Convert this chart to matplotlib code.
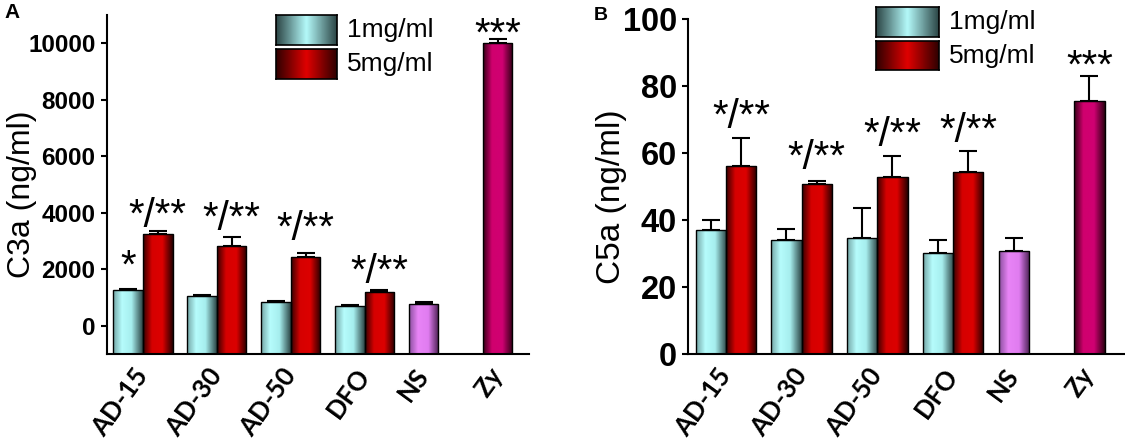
import numpy as np
import matplotlib
matplotlib.use('Agg')
import matplotlib.pyplot as plt
from matplotlib.colors import LinearSegmentedColormap

# data
groups = ['AD-15', 'AD-30', 'AD-50', 'DFO', 'NS', 'Zy']

c3a_1mg = [1250, 1040, 825, 710]
c3a_1mg_err = [40, 45, 35, 25]
c3a_5mg = [3240, 2840, 2440, 1190]
c3a_5mg_err = [110, 300, 130, 60]
c3a_ns, c3a_ns_err = 780, 60
c3a_zy, c3a_zy_err = 10010, 130

c5a_1mg = [37.1, 33.9, 34.7, 30.1]
c5a_1mg_err = [2.9, 3.5, 9.0, 3.9]
c5a_5mg = [56.2, 50.7, 52.9, 54.3]
c5a_5mg_err = [8.2, 1.0, 6.3, 6.4]
c5a_ns, c5a_ns_err = 30.7, 3.8
c5a_zy, c5a_zy_err = 75.6, 7.4

# significance marks: (text, baseline y)
sig_a_1mg = [('*', 1710)]
sig_a_5mg = [('*/**', 3510), ('*/**', 3400), ('*/**', 3020), ('*/**', 1510)]
sig_a_zy = ('***', 9900)
sig_b_5mg = [('*/**', 67.4), ('*/**', 55.3), ('*/**', 62.0), ('*/**', 63.4)]
sig_b_zy = ('***', 82.5)

ARIAL = 'Liberation Sans'
CAL = 'Lato'

cyan = LinearSegmentedColormap.from_list('cy', [(0, '#74a6a6'), (0.3, '#b6fcfc'), (0.62, '#a6eeee'), (1, '#2c4646')])
red = LinearSegmentedColormap.from_list('rd', [(0, '#3a0000'), (0.3, '#d60000'), (0.65, '#dc0000'), (1, '#280000')])
violet = LinearSegmentedColormap.from_list('vi', [(0, '#8c50a0'), (0.3, '#e884f6'), (0.65, '#e07cf0'), (1, '#4a2052')])
magenta = LinearSegmentedColormap.from_list('mg', [(0, '#3a0018'), (0.3, '#d0006e'), (0.65, '#d00072'), (1, '#300014')])
cyan_leg = LinearSegmentedColormap.from_list('cl', [(0, '#2c4646'), (0.5, '#b4fafa'), (1, '#2c4646')])
red_leg = LinearSegmentedColormap.from_list('rl', [(0, '#300000'), (0.5, '#e00000'), (1, '#300000')])

grad = np.linspace(0, 1, 64).reshape(1, -1)

W, H = 1125, 445
fig = plt.figure(figsize=(W / 100, H / 100), dpi=100)


def px(x0, y0, x1, y1):
    return [x0 / W, 1 - y1 / H, (x1 - x0) / W, (y1 - y0) / H]


def fill(ax, bars, cmap):
    for b in bars:
        x0, y0 = b.get_x(), b.get_y()
        im = ax.imshow(grad, cmap=cmap, aspect='auto', interpolation='bilinear',
                       extent=[x0, x0 + b.get_width(), y0, y0 + b.get_height()], zorder=1)
        im.set_clip_path(b)


def panel(ax, v1, e1, v5, e5, ns, nse, zy, zye, base):
    w = 0.4
    x = np.arange(len(v1))
    kw = dict(width=w, facecolor='none', edgecolor='black', linewidth=1.0, zorder=2)
    b1 = ax.bar(x - w / 2, np.array(v1) - base, bottom=base, **kw)
    b5 = ax.bar(x + w / 2, np.array(v5) - base, bottom=base, **kw)
    bn = ax.bar([len(v1) - w / 2], [ns - base], bottom=base, **kw)
    bz = ax.bar([len(v1) + 1 - w / 2], [zy - base], bottom=base, **kw)
    fill(ax, b1, cyan)
    fill(ax, b5, red)
    fill(ax, bn, violet)
    fill(ax, bz, magenta)
    ek = dict(fmt='none', ecolor='black', elinewidth=1.5, capsize=6.5, capthick=1.5, zorder=3)
    ax.errorbar(x - w / 2, v1, yerr=[np.zeros(len(v1)), e1], **ek)
    ax.errorbar(x + w / 2, v5, yerr=[np.zeros(len(v5)), e5], **ek)
    ax.errorbar([len(v1) - w / 2], [ns], yerr=[[0], [nse]], **ek)
    ax.errorbar([len(v1) + 1 - w / 2], [zy], yerr=[[0], [zye]], **ek)
    ticks = list(x) + [len(v1) - w / 2, len(v1) + 1 - w / 2]
    ax.set_xticks(ticks)
    ax.set_xticklabels(groups, rotation=54, ha='right', va='center', rotation_mode='anchor',
                       fontfamily=CAL, fontweight='bold', fontsize=18.5)
    ax.tick_params(axis='x', length=0, pad=12)
    ax.tick_params(axis='y', direction='out', length=4.5, width=1.5)
    for s in ['top', 'right']:
        ax.spines[s].set_visible(False)
    for s in ['left', 'bottom']:
        ax.spines[s].set_linewidth(1.5)
    return x, w


# panel A
axA = fig.add_axes(px(106.5, 15, 528.6, 354))
xA, w = panel(axA, c3a_1mg, c3a_1mg_err, c3a_5mg, c3a_5mg_err, c3a_ns, c3a_ns_err, c3a_zy, c3a_zy_err, -1000)
axA.set_ylim(-1000, 11000)
axA.set_xlim(-0.494, 5.22)
axA.set_yticks([0, 2000, 4000, 6000, 8000, 10000])
for t in axA.get_yticklabels():
    t.set_fontfamily(ARIAL); t.set_fontweight('bold'); t.set_fontsize(17.5)
axA.set_ylabel('C3a (ng/ml)', fontfamily=ARIAL, fontsize=23)
axA.yaxis.set_label_coords(-0.165, 0.47)
for i, (s, y) in enumerate(sig_a_1mg):
    axA.text(xA[i] - w / 2, y, s, ha='center', va='baseline', fontfamily=ARIAL, fontsize=29)
for i, (s, y) in enumerate(sig_a_5mg):
    axA.text(xA[i] + w / 2, y, s, ha='center', va='baseline', fontfamily=ARIAL, fontsize=29)
axA.text(len(c3a_1mg) + 1 - w / 2, sig_a_zy[1], sig_a_zy[0], ha='center', va='baseline', fontfamily=ARIAL, fontsize=29)
fig.text(4 / W, 1 - 13 / H, 'A', fontfamily=ARIAL, fontweight='bold', fontsize=15, va='center')

# panel B
axB = fig.add_axes(px(688, 19, 1125, 354))
xB, w = panel(axB, c5a_1mg, c5a_1mg_err, c5a_5mg, c5a_5mg_err, c5a_ns, c5a_ns_err, c5a_zy, c5a_zy_err, 0)
axB.set_ylim(0, 100)
axB.set_xlim(-0.50, 5.27)
axB.set_yticks([0, 20, 40, 60, 80, 100])
for t in axB.get_yticklabels():
    t.set_fontfamily(ARIAL); t.set_fontweight('bold'); t.set_fontsize(23.5)
axB.set_ylabel('C5a (ng/ml)', fontfamily=ARIAL, fontsize=24)
axB.yaxis.set_label_coords(-0.14, 0.47)
for i, (s, y) in enumerate(sig_b_5mg):
    axB.text(xB[i] + w / 2, y, s, ha='center', va='baseline', fontfamily=ARIAL, fontsize=29)
axB.text(len(c5a_1mg) + 1 - w / 2, sig_b_zy[1], sig_b_zy[0], ha='center', va='baseline', fontfamily=ARIAL, fontsize=29)
fig.text(594 / W, 1 - 16 / H, 'B', fontfamily=ARIAL, fontweight='bold', fontsize=14, va='center')

# legends
legends = [((276, 15, 337, 45), (276, 49, 337, 79), 347),
           ((876, 7, 939, 37), (876, 41, 939, 70), 949)]
for sw1, sw5, tx in legends:
    for box, cm, lab in [(sw1, cyan_leg, '1mg/ml'), (sw5, red_leg, '5mg/ml')]:
        la = fig.add_axes(px(*box))
        la.imshow(grad, cmap=cm, aspect='auto', interpolation='bilinear')
        la.set_xticks([]); la.set_yticks([])
        for s in la.spines.values():
            s.set_linewidth(1.2)
        fig.text(tx / W, 1 - (box[1] + box[3]) / 2 / H, lab, fontfamily=ARIAL, fontsize=19, va='center')

fig.savefig('out.png', dpi=100)
